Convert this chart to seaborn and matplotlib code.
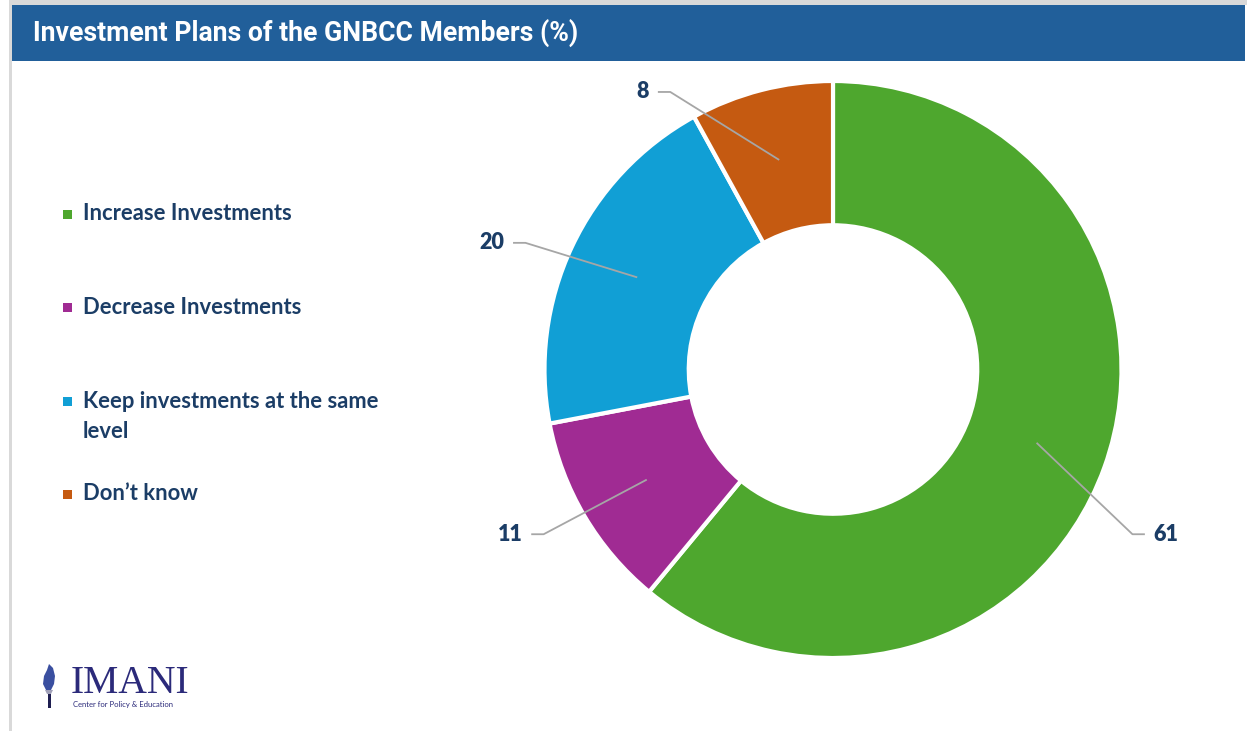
import matplotlib
matplotlib.use("Agg")
import matplotlib.pyplot as plt
from matplotlib import font_manager
from matplotlib.patches import Rectangle, Polygon
import numpy as np
import seaborn as sns

# ---- data ----
categories = ["Increase Investments", "Decrease Investments",
              "Keep investments at the same\nlevel", "Don\u2019t know"]
values = [61, 11, 20, 8]
title = "Investment Plans of the GNBCC Members (%)"

colors = ["#4EA72E", "#A02B93", "#119FD5", "#C55A11"]
navy = "#1B3D66"
header_blue = "#215F9A"

sns.set_theme(style="white")

available = {f.name for f in font_manager.fontManager.ttflist}
def pick(*names):
    for n in names:
        if n in available:
            return n
    return "DejaVu Sans"

title_font = pick("Liberation Sans Narrow", "Roboto", "Lato")
body_font = pick("Lato", "Roboto", "DejaVu Sans")
serif_font = pick("Liberation Serif", "DejaVu Serif")

W, H = 1247, 731
fig = plt.figure(figsize=(W / 100, H / 100), dpi=100)
fig.patch.set_facecolor("white")

# full-figure overlay in pixel coordinates for frame, header and legend
bg = fig.add_axes([0, 0, 1, 1])
bg.set_xlim(0, W)
bg.set_ylim(H, 0)
bg.axis("off")

# frame lines and header bar
bg.add_patch(Rectangle((9, 0), W - 9, 4.5, color="#D9D9D9", lw=0))
bg.add_patch(Rectangle((9, 0), 2.5, H, color="#D9D9D9", lw=0))
bg.add_patch(Rectangle((11.5, 4.5), 1233, 56, color=header_blue, lw=0))
bg.text(33, 33, title, color="white", fontsize=19.2, fontweight="bold",
        family=title_font, va="center", ha="left")

# legend
leg_y = [214, 307, 401, 494]
for cat, col, y in zip(categories, colors, leg_y):
    bg.add_patch(Rectangle((63, y - 4.5), 9, 9, color=col, lw=0))
    for i, line in enumerate(cat.split("\n")):
        bg.text(83, y + i * 30, line, color=navy, fontsize=15.8,
                fontweight="bold", family=body_font, va="center", ha="left")

# logo: torch and wordmark
flame = Polygon([(49, 664), (53, 668), (55, 676), (54, 684), (51, 690),
                 (46, 690), (43, 684), (44, 676), (47, 670)],
                closed=True, color="#3A4FA0", lw=0)
bg.add_patch(flame)
bg.add_patch(Polygon([(45, 690), (53, 690), (51, 694), (47, 694)],
                     closed=True, color="#A0A0B8", lw=0))
bg.add_patch(Rectangle((48, 694), 2.5, 14, color="#1E1E50", lw=0))
bg.text(71, 693, "IMANI", color="#2B2A7A", fontsize=28.5, family=serif_font,
        va="baseline", ha="left")
bg.text(73, 704, "Center for Policy & Education", color="#2B2A7A",
        fontsize=5.5, family=body_font, va="center", ha="left")

# ---- donut ----
cx, cy, r = 833, 369.5, 288.5
ax = fig.add_axes([(cx - r) / W, (H - cy - r) / H, 2 * r / W, 2 * r / H])
wedges, _ = ax.pie(values, colors=colors, startangle=90, counterclock=False,
                   radius=1.0,
                   wedgeprops=dict(width=0.5, edgecolor="white", linewidth=3))
ax.set_xlim(-1, 1)
ax.set_ylim(-1, 1)
ax.set_aspect("equal")
ax.axis("off")

# leader line elbows (in donut radius units) and label alignment
elbows = [(1.038, -0.571, 1), (-1.003, -0.571, -1),
          (-1.066, 0.439, -1), (-0.564, 0.962, -1)]
for w, v, (ex, ey, side) in zip(wedges, values, elbows):
    mid = np.deg2rad((w.theta1 + w.theta2) / 2)
    sx, sy = 0.75 * np.cos(mid), 0.75 * np.sin(mid)
    hx = ex + side * 0.043
    ax.plot([sx, ex, hx], [sy, ey, ey], color="#A6A6A6", lw=1.3,
            clip_on=False, solid_capstyle="butt")
    ax.text(hx + side * 0.03, ey, f"{v}", color=navy, fontsize=15.5,
            fontweight="heavy", family=body_font, va="center",
            ha="left" if side > 0 else "right")

fig.savefig("out.png", dpi=100, facecolor="white")
